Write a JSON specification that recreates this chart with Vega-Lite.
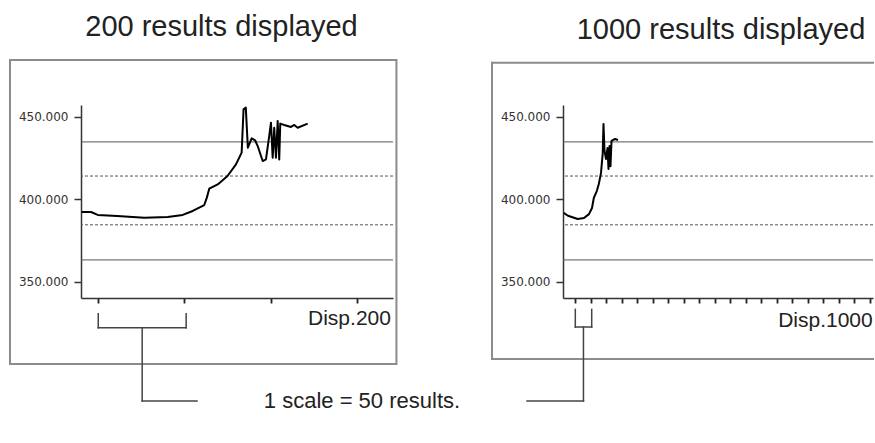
{
  "$schema": "https://vega.github.io/schema/vega-lite/v6.json",
  "background": "white",
  "padding": {"left": 8, "top": 12, "right": 0, "bottom": 4},
  "spacing": 170,
  "bounds": "flush",
  "config": {
    "view": {"stroke": null},
    "axisY": {"domainColor": "#333", "domainWidth": 1.5, "tickColor": "#333", "tickSize": 7, "tickWidth": 1.5, "labelPadding": 6, "labelFont": "DejaVu Sans", "labelFontSize": 12, "labelColor": "#333", "grid": false},
    "axisX": {"domainColor": "#333", "domainWidth": 1.5, "tickColor": "#222", "tickSize": 5, "tickWidth": 1.8, "labels": false, "labelOverlap": false, "grid": false}
  },
  "hconcat": [
    {
      "width": 312,
      "height": 193,
      "layer": [
        {
          "data": {"values": [{"r": -41.2, "r2": 183, "v": 484.5, "v2": 300.0}]},
          "mark": {"type": "rect", "fillOpacity": 0, "stroke": "#8c8c8c", "strokeWidth": 2},
          "encoding": {
            "x": {"field": "r", "type": "quantitative", "title": null, "scale": {"domain": [0, 181], "nice": false, "zero": false}, "axis": {"values": [10, 60, 110, 160], "tickCount": 30}},
            "x2": {"field": "r2"},
            "y": {"field": "v", "type": "quantitative", "title": null, "scale": {"domain": [340.1, 457.2], "nice": false, "zero": false}, "axis": {"values": [350, 400, 450], "format": ".3f", "tickCount": 10}},
            "y2": {"field": "v2"}
          }
        },
        {
          "data": {"values": [
            {"v": 434.8, "kind": "limit"},
            {"v": 414.1, "kind": "warning"},
            {"v": 384.5, "kind": "warning"},
            {"v": 363.2, "kind": "limit"}
          ]},
          "mark": {"type": "rule", "color": "#555", "strokeWidth": 1},
          "encoding": {
            "y": {"field": "v", "type": "quantitative", "title": null, "scale": {"domain": [340.1, 457.2], "nice": false, "zero": false}},
            "strokeDash": {"field": "kind", "type": "nominal", "scale": {"domain": ["limit", "warning"], "range": [[1, 0], [3, 2]]}, "legend": null}
          }
        },
        {
          "data": {"values": [
            {"r": 0.4, "v": 392.3}, {"r": 5.8, "v": 392.3}, {"r": 9.7, "v": 390.5}, {"r": 21, "v": 389.9},
            {"r": 36.7, "v": 388.8}, {"r": 50.3, "v": 389.2}, {"r": 59, "v": 390.5}, {"r": 64.8, "v": 392.9},
            {"r": 71.5, "v": 396.5}, {"r": 73, "v": 401}, {"r": 74.4, "v": 406.4}, {"r": 79.3, "v": 409},
            {"r": 85, "v": 414.1}, {"r": 89.9, "v": 421.2}, {"r": 93.2, "v": 428.3}, {"r": 94.3, "v": 454.6},
            {"r": 95.6, "v": 455.6}, {"r": 96.8, "v": 431.3}, {"r": 99, "v": 437}, {"r": 101, "v": 435.8},
            {"r": 102.5, "v": 432.3}, {"r": 105.4, "v": 423.2}, {"r": 107.3, "v": 424.2}, {"r": 109.2, "v": 438.4},
            {"r": 110.2, "v": 446.5}, {"r": 111.2, "v": 425.2}, {"r": 112.1, "v": 443.4}, {"r": 113.1, "v": 425.2},
            {"r": 114.1, "v": 447.5}, {"r": 115, "v": 424.2}, {"r": 115.6, "v": 445.9}, {"r": 117.9, "v": 445.1},
            {"r": 121.8, "v": 443.9}, {"r": 123.7, "v": 445.1}, {"r": 125.7, "v": 443.4}, {"r": 131.5, "v": 445.9}
          ]},
          "mark": {"type": "line", "color": "black", "strokeWidth": 2, "strokeJoin": "round"},
          "encoding": {
            "x": {"field": "r", "type": "quantitative", "title": null, "scale": {"domain": [0, 181], "nice": false, "zero": false}},
            "y": {"field": "v", "type": "quantitative", "title": null, "scale": {"domain": [340.1, 457.2], "nice": false, "zero": false}}
          }
        },
        {
          "data": {"values": [
            {"r": 10, "r2": 10, "v": 330.6, "v2": 322.1},
            {"r": 61, "r2": 61, "v": 330.6, "v2": 322.1},
            {"r": 10, "r2": 61, "v": 322.1, "v2": 322.1},
            {"r": 35.5, "r2": 35.5, "v": 322.1, "v2": 277.6},
            {"r": 35.5, "r2": 67.3, "v": 277.6, "v2": 277.6}
          ]},
          "mark": {"type": "rule", "color": "#444", "strokeWidth": 1.5, "strokeCap": "square"},
          "encoding": {
            "x": {"field": "r", "type": "quantitative", "title": null, "scale": {"domain": [0, 181], "nice": false, "zero": false}},
            "x2": {"field": "r2"},
            "y": {"field": "v", "type": "quantitative", "title": null, "scale": {"domain": [340.1, 457.2], "nice": false, "zero": false}},
            "y2": {"field": "v2"}
          }
        },
        {
          "data": {"values": [{"label": "200 results displayed", "r": 81.5, "v": 499.1}]},
          "mark": {"type": "text", "font": "Liberation Sans", "fontSize": 29, "align": "center", "baseline": "alphabetic", "color": "#222"},
          "encoding": {
            "x": {"field": "r", "type": "quantitative", "title": null, "scale": {"domain": [0, 181], "nice": false, "zero": false}},
            "y": {"field": "v", "type": "quantitative", "title": null, "scale": {"domain": [340.1, 457.2], "nice": false, "zero": false}},
            "text": {"field": "label"}
          }
        },
        {
          "data": {"values": [{"label": "Disp.200", "r": 179.8, "v": 327.3}]},
          "mark": {"type": "text", "font": "Liberation Sans", "fontSize": 21, "align": "right", "baseline": "middle", "color": "#222"},
          "encoding": {
            "x": {"field": "r", "type": "quantitative", "title": null, "scale": {"domain": [0, 181], "nice": false, "zero": false}},
            "y": {"field": "v", "type": "quantitative", "title": null, "scale": {"domain": [340.1, 457.2], "nice": false, "zero": false}},
            "text": {"field": "label"}
          }
        },
        {
          "data": {"values": [{"label": "1 scale = 50 results.", "r": 163, "v": 277.6}]},
          "mark": {"type": "text", "font": "Liberation Sans", "fontSize": 22, "align": "center", "baseline": "middle", "color": "#222"},
          "encoding": {
            "x": {"field": "r", "type": "quantitative", "title": null, "scale": {"domain": [0, 181], "nice": false, "zero": false}},
            "y": {"field": "v", "type": "quantitative", "title": null, "scale": {"domain": [340.1, 457.2], "nice": false, "zero": false}},
            "text": {"field": "label"}
          }
        }
      ]
    },
    {
      "width": 310,
      "height": 193,
      "layer": [
        {
          "data": {"values": [
            {"r": -229, "r2": 1000, "v": 482.9, "v2": 482.9},
            {"r": -229, "r2": -229, "v": 482.9, "v2": 303.1},
            {"r": -229, "r2": 1000, "v": 303.1, "v2": 303.1}
          ]},
          "mark": {"type": "rule", "color": "#8c8c8c", "strokeWidth": 2, "strokeCap": "square"},
          "encoding": {
            "x": {"field": "r", "type": "quantitative", "title": null, "scale": {"domain": [0, 1000], "nice": false, "zero": false}, "axis": {"values": [40, 90, 140, 190, 240, 290, 340, 390, 440, 490, 540, 590, 640, 690, 740, 790, 840, 890, 940, 990], "tickCount": 30}},
            "x2": {"field": "r2"},
            "y": {"field": "v", "type": "quantitative", "title": null, "scale": {"domain": [340.1, 457.2], "nice": false, "zero": false}, "axis": {"values": [350, 400, 450], "format": ".3f", "tickCount": 10}},
            "y2": {"field": "v2"}
          }
        },
        {
          "data": {"values": [
            {"v": 434.8, "kind": "limit"},
            {"v": 414.1, "kind": "warning"},
            {"v": 384.5, "kind": "warning"},
            {"v": 363.2, "kind": "limit"}
          ]},
          "mark": {"type": "rule", "color": "#555", "strokeWidth": 1},
          "encoding": {
            "y": {"field": "v", "type": "quantitative", "title": null, "scale": {"domain": [340.1, 457.2], "nice": false, "zero": false}},
            "strokeDash": {"field": "kind", "type": "nominal", "scale": {"domain": ["limit", "warning"], "range": [[1, 0], [3, 2]]}, "legend": null}
          }
        },
        {
          "data": {"values": [
            {"r": 2.3, "v": 391.7}, {"r": 16.1, "v": 390}, {"r": 47.4, "v": 388}, {"r": 67.7, "v": 388.6},
            {"r": 83.9, "v": 391}, {"r": 93.5, "v": 394.7}, {"r": 99.4, "v": 400.8}, {"r": 109, "v": 405},
            {"r": 115.5, "v": 409.3}, {"r": 122.6, "v": 416}, {"r": 128, "v": 427.5}, {"r": 130.6, "v": 445.7},
            {"r": 133.9, "v": 429.3}, {"r": 138.7, "v": 424.4}, {"r": 143.5, "v": 431.1}, {"r": 146.8, "v": 418.4},
            {"r": 150, "v": 432.3}, {"r": 153.2, "v": 420}, {"r": 156.5, "v": 435.4}, {"r": 167.7, "v": 436.6},
            {"r": 177.4, "v": 436}
          ]},
          "mark": {"type": "line", "color": "black", "strokeWidth": 2, "strokeJoin": "round"},
          "encoding": {
            "x": {"field": "r", "type": "quantitative", "title": null, "scale": {"domain": [0, 1000], "nice": false, "zero": false}},
            "y": {"field": "v", "type": "quantitative", "title": null, "scale": {"domain": [340.1, 457.2], "nice": false, "zero": false}}
          }
        },
        {
          "data": {"values": [
            {"r": 39.7, "r2": 39.7, "v": 333.2, "v2": 322.5},
            {"r": 92.6, "r2": 92.6, "v": 333.2, "v2": 322.5},
            {"r": 39.7, "r2": 92.6, "v": 322.5, "v2": 322.5},
            {"r": 66, "r2": 66, "v": 322.5, "v2": 277.6},
            {"r": -116.1, "r2": 66, "v": 277.6, "v2": 277.6}
          ]},
          "mark": {"type": "rule", "color": "#444", "strokeWidth": 1.5, "strokeCap": "square"},
          "encoding": {
            "x": {"field": "r", "type": "quantitative", "title": null, "scale": {"domain": [0, 1000], "nice": false, "zero": false}},
            "x2": {"field": "r2"},
            "y": {"field": "v", "type": "quantitative", "title": null, "scale": {"domain": [340.1, 457.2], "nice": false, "zero": false}},
            "y2": {"field": "v2"}
          }
        },
        {
          "data": {"values": [{"label": "1000 results displayed", "r": 509.7, "v": 497.2}]},
          "mark": {"type": "text", "font": "Liberation Sans", "fontSize": 29, "align": "center", "baseline": "alphabetic", "color": "#222"},
          "encoding": {
            "x": {"field": "r", "type": "quantitative", "title": null, "scale": {"domain": [0, 1000], "nice": false, "zero": false}},
            "y": {"field": "v", "type": "quantitative", "title": null, "scale": {"domain": [340.1, 457.2], "nice": false, "zero": false}},
            "text": {"field": "label"}
          }
        },
        {
          "data": {"values": [{"label": "Disp.1000", "r": 999, "v": 326.1}]},
          "mark": {"type": "text", "font": "Liberation Sans", "fontSize": 21, "align": "right", "baseline": "middle", "color": "#222"},
          "encoding": {
            "x": {"field": "r", "type": "quantitative", "title": null, "scale": {"domain": [0, 1000], "nice": false, "zero": false}},
            "y": {"field": "v", "type": "quantitative", "title": null, "scale": {"domain": [340.1, 457.2], "nice": false, "zero": false}},
            "text": {"field": "label"}
          }
        }
      ]
    }
  ]
}
